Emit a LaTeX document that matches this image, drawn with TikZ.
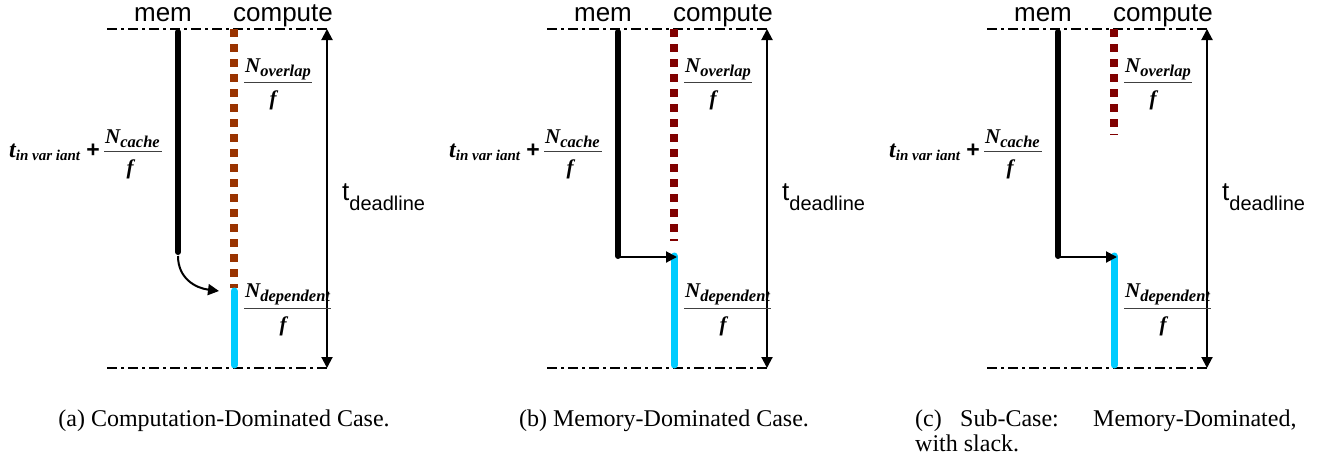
\documentclass[tikz,border=0pt]{standalone}
\usepackage{fontspec}
\setmainfont{Liberation Serif}
\newfontfamily\arialf{Liberation Sans}
\usetikzlibrary{arrows.meta}
\definecolor{brownc}{HTML}{993300}
\definecolor{darkredc}{HTML}{800000}
\definecolor{cyanc}{HTML}{00CCFF}
\tikzset{
  axisline/.style={line width=2pt, dash pattern=on 10pt off 4pt on 3pt off 4pt},
  memline/.style={line width=6pt, line cap=round},
  ovl/.style={line width=8pt, dash pattern=on 8pt off 7pt},
  depline/.style={line width=7pt, line cap=round, draw=cyanc},
  arr/.style={line width=2pt, -{Triangle[length=11pt,width=11pt]}},
  dblarr/.style={line width=2pt, {Triangle[length=11pt,width=11pt]}-{Triangle[length=11pt,width=11pt]}},
  lbl/.style={font=\arialf\fontsize{26}{26}\selectfont, inner sep=0pt, anchor=base},
  mth/.style={font=\bfseries\itshape\fontsize{21}{21}\selectfont, inner sep=0pt},
  captxt/.style={font=\fontsize{24}{24}\selectfont, inner sep=0pt, anchor=base},
  fbar/.style={line width=1pt, draw=black!75},
}
\newcommand\subtxt[1]{\raisebox{-4pt}{\fontsize{16.5}{16.5}\selectfont #1}}
\newcommand\commonpanel[1]{%
  \coordinate (tl#1) at (107,29); \coordinate (tr#1) at (328,29);
  \coordinate (bl#1) at (107,368); \coordinate (br#1) at (328,368);
  \draw[axisline] (tl#1) -- (tr#1);
  \draw[axisline] (bl#1) -- (br#1);
  \coordinate (dtop#1) at (327,29); \coordinate (dbot#1) at (327,368);
  \draw[dblarr] (dtop#1) -- (dbot#1);
  \node[lbl] (meml#1) at (163,21) {mem};
  \node[lbl] (compl#1) at (283,21) {compute};
  \node[lbl, anchor=base west] (tdl#1) at (342,200) {t\raisebox{-10pt}{\fontsize{20}{20}\selectfont deadline}};
  % t invariant + N_cache / f
  \node[mth, anchor=base west] (tinv#1) at (9,157) {{\fontsize{24}{24}\selectfont t}\raisebox{-3pt}{\fontsize{15}{15}\selectfont in var iant}};
  \node[font=\arialf\bfseries\fontsize{23}{23}\selectfont, inner sep=0pt] (plus#1) at (93,151) {+};
  \node[mth, anchor=base west] (ncache#1) at (105,143) {N\subtxt{cache}};
  \coordinate (cbl#1) at (104,151); \coordinate (cbr#1) at (162,151);
  \draw[fbar] (cbl#1) -- (cbr#1);
  \node[mth, anchor=base] (fcache#1) at (130,174) {f};
  % N_overlap / f
  \node[mth, anchor=base west] (novl#1) at (245,72) {N\subtxt{overlap}};
  \coordinate (obl#1) at (244,82); \coordinate (obr#1) at (312,82);
  \draw[fbar] (obl#1) -- (obr#1);
  \node[mth, anchor=base] (fovl#1) at (273,105) {f};
  % N_dependent / f
  \node[mth, anchor=base west] (ndep#1) at (245,297) {N\subtxt{dependent}};
  \coordinate (dbl#1) at (244,308); \coordinate (dbr#1) at (331,308);
  \draw[fbar] (dbl#1) -- (dbr#1);
  \node[mth, anchor=base] (fdep#1) at (283,331) {f};
}
\begin{document}
\begin{tikzpicture}[x=1pt,y=-1pt]
\useasboundingbox (0,0) rectangle (1320,459);
% ---------- panel (a)
\begin{scope}
  \commonpanel{a}
  \coordinate (mtopa) at (178,32); \coordinate (mbota) at (178,252);
  \draw[memline] (mtopa) -- (mbota);
  \coordinate (otopa) at (234,29); \coordinate (obota) at (234,288);
  \draw[ovl, draw=brownc] (otopa) -- (obota);
  \coordinate (ctopa) at (234,291); \coordinate (cbota) at (234,365);
  \draw[depline] (ctopa) -- (cbota);
  \coordinate (curvs) at (178,256); \coordinate (curve) at (219,291);
  \draw[arr] (curvs) .. controls (178,278) and (195,288) .. (curve);
  \node[captxt] (capa) at (224,426) {(a) Computation-Dominated Case.};
\end{scope}
% ---------- panel (b)
\begin{scope}[xshift=440pt]
  \commonpanel{b}
  \coordinate (mtopb) at (178,32); \coordinate (mbotb) at (178,256);
  \draw[memline] (mtopb) -- (mbotb);
  \coordinate (otopb) at (234,29); \coordinate (obotb) at (234,241);
  \draw[ovl, draw=darkredc] (otopb) -- (obotb);
  \coordinate (ctopb) at (234,256); \coordinate (cbotb) at (234,365);
  \draw[depline] (ctopb) -- (cbotb);
  \coordinate (hsb) at (178,257); \coordinate (heb) at (237,257);
  \draw[arr] (hsb) -- (heb);
  \node[captxt] (capb) at (224,426) {(b) Memory-Dominated Case.};
\end{scope}
% ---------- panel (c)
\begin{scope}[xshift=880pt]
  \commonpanel{c}
  \coordinate (mtopc) at (178,32); \coordinate (mbotc) at (178,256);
  \draw[memline] (mtopc) -- (mbotc);
  \coordinate (otopc) at (234,29); \coordinate (obotc) at (234,135);
  \draw[ovl, draw=darkredc] (otopc) -- (obotc);
  \coordinate (ctopc) at (234,256); \coordinate (cbotc) at (234,365);
  \draw[depline] (ctopc) -- (cbotc);
  \coordinate (hsc) at (178,257); \coordinate (hec) at (237,257);
  \draw[arr] (hsc) -- (hec);
  \node[captxt, anchor=base west] (capc1) at (35,426) {(c)};
  \node[captxt, anchor=base west] (capc2) at (80,426) {Sub-Case:};
  \node[captxt, anchor=base west] (capc3) at (213,426) {Memory-Dominated,};
  \node[captxt, anchor=base west] (capc4) at (35,451) {with slack.};
\end{scope}
\end{tikzpicture}
\end{document}
